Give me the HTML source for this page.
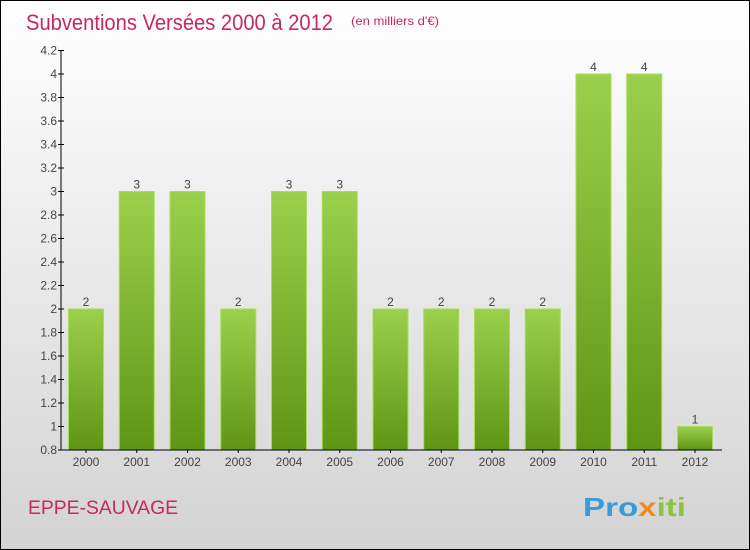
<!DOCTYPE html>
<html><head><meta charset="utf-8"><style>
html,body{margin:0;padding:0}
body{width:750px;height:550px;overflow:hidden;font-family:"Liberation Sans",sans-serif}
#frame{position:absolute;left:0;top:0;width:748px;height:548px;border:1px solid #000;background:linear-gradient(#fff,#d3d3d3)}
</style></head><body>
<div id="frame"></div>
<svg id="chart" width="750" height="550" style="position:absolute;left:0;top:0">
<defs><linearGradient id="bg" x1="0" y1="0" x2="0" y2="1"><stop offset="0" stop-color="#9bd04c"/><stop offset="1" stop-color="#5e9614"/></linearGradient></defs>
<text x="26" y="30" font-size="22" fill="#c8285a" textLength="307" lengthAdjust="spacingAndGlyphs">Subventions Versées 2000 à 2012</text>
<text x="351" y="25" font-size="12" fill="#c8285a" textLength="88" lengthAdjust="spacingAndGlyphs">(en milliers d'€)</text>
<text x="28" y="514" font-size="19" fill="#c8285a" textLength="150" lengthAdjust="spacingAndGlyphs">EPPE-SAUVAGE</text>
<text x="583" y="516" font-size="26" font-weight="bold" fill="#3a9ad9" textLength="103" lengthAdjust="spacingAndGlyphs">Pro<tspan fill="#f08a1c">x</tspan><tspan fill="#8bc43f">iti</tspan></text>
<g id="g"></g>
</svg>
<script>
const categories=["2000","2001","2002","2003","2004","2005","2006","2007","2008","2009","2010","2011","2012"];
const values=[2,3,3,2,3,3,2,2,2,2,4,4,1];
const yTicks=["0.8","1","1.2","1.4","1.6","1.8","2","2.2","2.4","2.6","2.8","3","3.2","3.4","3.6","3.8","4","4.2"];
const yMin=0.8,yMax=4.2,top_=50.5,bot=450,axisX=61;
const y=v=>bot-(v-yMin)/(yMax-yMin)*(bot-top_);
const x=i=>86+i*50.75;
const g=document.getElementById('g');const NS='http://www.w3.org/2000/svg';
function mk(t,a){const e=document.createElementNS(NS,t);for(const k in a)e.setAttribute(k,a[k]);g.appendChild(e);return e;}
values.forEach((v,i)=>{
 const r=mk('rect',{x:x(i)-17.5,y:y(v),width:35,height:bot-y(v),fill:'url(#bg)',stroke:'#a8dc60','stroke-width':1});
 
 
 const t=mk('text',{x:x(i),y:y(v)-3,'font-size':12,fill:'#444','text-anchor':'middle'});t.textContent=v;
 
 
 const c=mk('text',{x:x(i),y:466,'font-size':12,fill:'#444','text-anchor':'middle'});c.textContent=categories[i];
 
 
});
yTicks.forEach(s=>{const v=parseFloat(s);
 mk('line',{x1:axisX-3,x2:axisX+3,y1:y(v),y2:y(v),stroke:'#000'});
 const t=mk('text',{x:axisX-4,y:y(v)+4,'font-size':12,fill:'#444','text-anchor':'end'});t.textContent=s;
 
 
});
const ya=mk('line',{x1:axisX,x2:axisX,y1:top_,y2:bot,stroke:'#000'});


const xa=mk('line',{x1:axisX,x2:722,y1:bot,y2:bot,stroke:'#000'});


categories.forEach((c,i)=>mk('line',{x1:x(i),x2:x(i),y1:bot,y2:bot+3,stroke:'#000'}));
</script>
</body></html>
